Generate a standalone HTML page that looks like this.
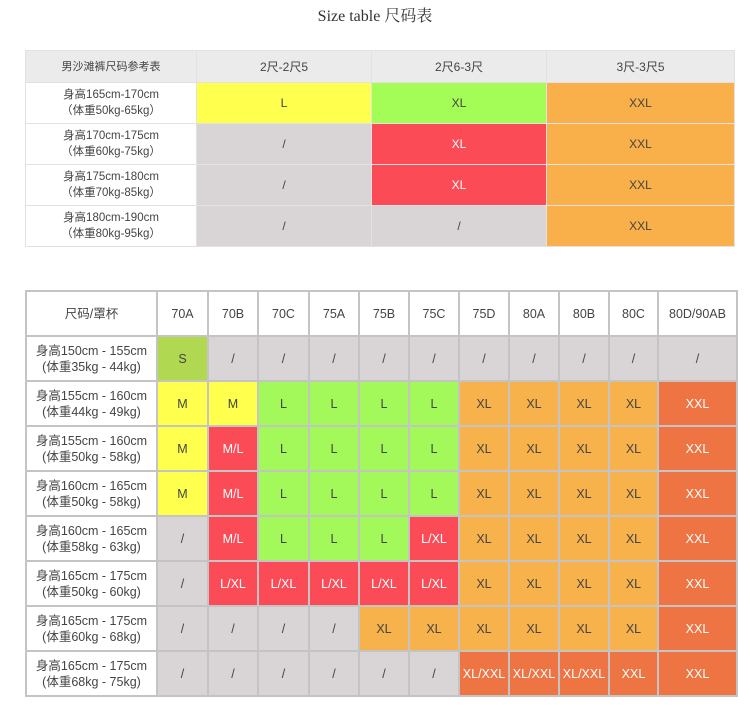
<!DOCTYPE html>
<html><head><meta charset="utf-8"><style>
body{margin:0;width:750px;height:708px;background:#fff;font-family:"Liberation Sans","Noto Sans CJK SC",sans-serif;color:#444;position:relative;overflow:hidden}
.title{position:absolute;top:3px;left:0;width:750px;text-align:center;font-family:"Liberation Serif","Noto Serif CJK SC",serif;font-size:16px;color:#333}
table{position:absolute;border-collapse:collapse;table-layout:fixed}
td{text-align:center;padding:0;font-size:12px;line-height:16px}
#t1{left:25px;top:50px;width:709px}
#t1 td{border:1px solid #e2e2e2}
#t1 tr.h td{background:#ebebeb;height:31px}
#t1 tr.rr td{height:40px}
#t2{left:25px;top:290px;width:711px}
#t2 td{border:2px solid #c4c4c4;height:43px;font-size:12.5px}
.y{background:#ffff4d}.g{background:#a3f85a}.o{background:#f7b24b}.d{background:#ee7444;color:#fff}.r{background:#fb4b57;color:#fff}.x{background:#d9d5d6}.s{background:#b1d851}
#t1 .o{background:#f9b04a}#t1 .g{background:#a4fd57}
.w{background:#fff}
</style></head><body>
<div class="title">Size table 尺码表</div>
<table id="t1">
<colgroup><col style="width:171px"><col style="width:175px"><col style="width:175px"><col style="width:188px"></colgroup>
<tr class="h"><td style="font-size:11px">男沙滩裤尺码参考表</td><td>2尺-2尺5</td><td>2尺6-3尺</td><td>3尺-3尺5</td></tr>
<tr class="rr"><td class="w" style="font-size:11.5px">身高165cm-170cm<br>（体重50kg-65kg）</td><td class="y">L</td><td class="g">XL</td><td class="o">XXL</td></tr>
<tr class="rr"><td class="w" style="font-size:11.5px">身高170cm-175cm<br>（体重60kg-75kg）</td><td class="x">/</td><td class="r">XL</td><td class="o">XXL</td></tr>
<tr class="rr"><td class="w" style="font-size:11.5px">身高175cm-180cm<br>（体重70kg-85kg）</td><td class="x">/</td><td class="r">XL</td><td class="o">XXL</td></tr>
<tr class="rr"><td class="w" style="font-size:11.5px">身高180cm-190cm<br>（体重80kg-95kg）</td><td class="x">/</td><td class="x">/</td><td class="o">XXL</td></tr>
</table>
<table id="t2">
<colgroup><col style="width:131px"><col style="width:51px"><col style="width:50px"><col style="width:51px"><col style="width:50px"><col style="width:50px"><col style="width:50px"><col style="width:50px"><col style="width:50px"><col style="width:50px"><col style="width:49px"><col style="width:79px"></colgroup>
<tr><td>尺码/罩杯</td><td>70A</td><td>70B</td><td>70C</td><td>75A</td><td>75B</td><td>75C</td><td>75D</td><td>80A</td><td>80B</td><td>80C</td><td>80D/90AB</td></tr>
<tr><td>身高150cm - 155cm<br>(体重35kg - 44kg)</td><td class="s">S</td><td class="x">/</td><td class="x">/</td><td class="x">/</td><td class="x">/</td><td class="x">/</td><td class="x">/</td><td class="x">/</td><td class="x">/</td><td class="x">/</td><td class="x">/</td></tr>
<tr><td>身高155cm - 160cm<br>(体重44kg - 49kg)</td><td class="y">M</td><td class="y">M</td><td class="g">L</td><td class="g">L</td><td class="g">L</td><td class="g">L</td><td class="o">XL</td><td class="o">XL</td><td class="o">XL</td><td class="o">XL</td><td class="d">XXL</td></tr>
<tr><td>身高155cm - 160cm<br>(体重50kg - 58kg)</td><td class="y">M</td><td class="r">M/L</td><td class="g">L</td><td class="g">L</td><td class="g">L</td><td class="g">L</td><td class="o">XL</td><td class="o">XL</td><td class="o">XL</td><td class="o">XL</td><td class="d">XXL</td></tr>
<tr><td>身高160cm - 165cm<br>(体重50kg - 58kg)</td><td class="y">M</td><td class="r">M/L</td><td class="g">L</td><td class="g">L</td><td class="g">L</td><td class="g">L</td><td class="o">XL</td><td class="o">XL</td><td class="o">XL</td><td class="o">XL</td><td class="d">XXL</td></tr>
<tr><td>身高160cm - 165cm<br>(体重58kg - 63kg)</td><td class="x">/</td><td class="r">M/L</td><td class="g">L</td><td class="g">L</td><td class="g">L</td><td class="r">L/XL</td><td class="o">XL</td><td class="o">XL</td><td class="o">XL</td><td class="o">XL</td><td class="d">XXL</td></tr>
<tr><td>身高165cm - 175cm<br>(体重50kg - 60kg)</td><td class="x">/</td><td class="r">L/XL</td><td class="r">L/XL</td><td class="r">L/XL</td><td class="r">L/XL</td><td class="r">L/XL</td><td class="o">XL</td><td class="o">XL</td><td class="o">XL</td><td class="o">XL</td><td class="d">XXL</td></tr>
<tr><td>身高165cm - 175cm<br>(体重60kg - 68kg)</td><td class="x">/</td><td class="x">/</td><td class="x">/</td><td class="x">/</td><td class="o">XL</td><td class="o">XL</td><td class="o">XL</td><td class="o">XL</td><td class="o">XL</td><td class="o">XL</td><td class="d">XXL</td></tr>
<tr><td>身高165cm - 175cm<br>(体重68kg - 75kg)</td><td class="x">/</td><td class="x">/</td><td class="x">/</td><td class="x">/</td><td class="x">/</td><td class="x">/</td><td class="d">XL/XXL</td><td class="d">XL/XXL</td><td class="d">XL/XXL</td><td class="d">XXL</td><td class="d">XXL</td></tr>
</table>
</body></html>
